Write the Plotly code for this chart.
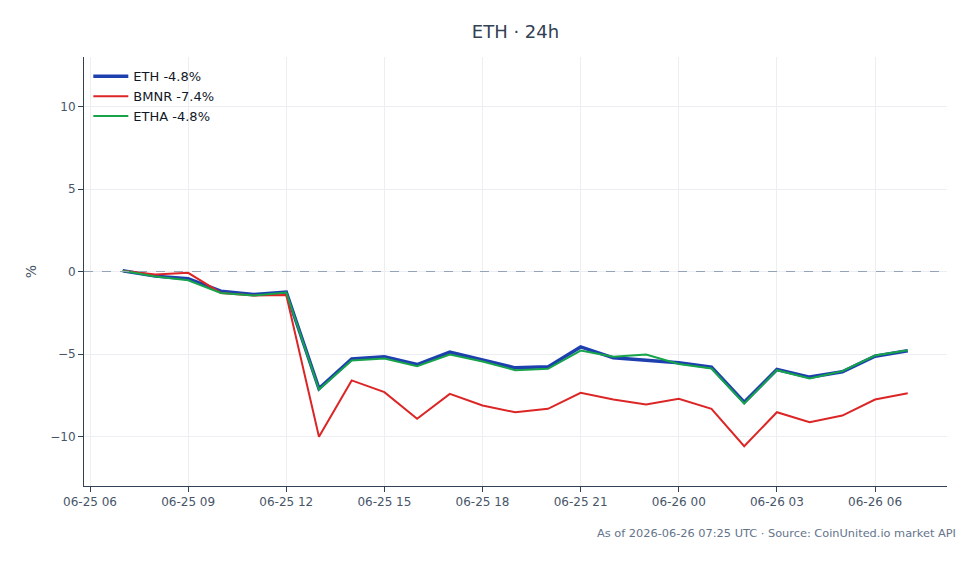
import plotly.graph_objects as go
import pandas as pd

times = pd.date_range("2026-06-25 07:00", "2026-06-26 07:00", freq="h")

eth = [0.05, -0.28, -0.44, -1.19, -1.39, -1.25, -7.1, -5.3, -5.17, -5.64, -4.89, -5.37,
       -5.84, -5.78, -4.57, -5.23, -5.39, -5.53, -5.8, -7.92, -5.94, -6.4, -6.08, -5.13, -4.8]
bmnr = [0.05, -0.18, -0.08, -1.3, -1.45, -1.43, -10.02, -6.6, -7.31, -8.93, -7.42, -8.12,
        -8.53, -8.32, -7.35, -7.76, -8.06, -7.72, -8.32, -10.59, -8.53, -9.13, -8.73, -7.76, -7.38]
etha = [0.05, -0.3, -0.53, -1.3, -1.45, -1.27, -7.15, -5.4, -5.27, -5.74, -5.03, -5.45,
        -5.98, -5.9, -4.79, -5.17, -5.03, -5.6, -5.88, -8.0, -5.98, -6.48, -6.04, -5.09, -4.77]

names = ["ETH -4.8%", "BMNR -7.4%", "ETHA -4.8%"]
colors = ["#1e40af", "#dc2626", "#16a34a"]
widths = [3.5, 2, 2]

fig = go.Figure()
for vals, name, c, w in zip([eth, bmnr, etha], names, colors, widths):
    fig.add_trace(go.Scatter(x=times, y=vals, mode="lines", name=name,
                             line=dict(color=c, width=w)))

fig.add_hline(y=0, line=dict(color="#94a3b8", width=1, dash="dash"))

fig.update_layout(
    width=979, height=564,
    margin=dict(l=84, r=32, t=57, b=78),
    paper_bgcolor="white", plot_bgcolor="white",
    font=dict(family="DejaVu Sans", size=12, color="#475569"),
    title=dict(text="ETH · 24h", x=0.5, xref="paper", xanchor="center",
               y=1 - 32 / 564, yref="container", yanchor="middle",
               font=dict(size=18, color="#334155")),
    legend=dict(x=0.005, y=0.99, xanchor="left", yanchor="top", itemwidth=35,
                bgcolor="rgba(0,0,0,0)", font=dict(size=13, color="#111827")),
    showlegend=True,
)
fig.update_xaxes(
    range=["2026-06-25 05:49", "2026-06-26 08:12"],
    tickformat="%m-%d %H", dtick=3 * 3600 * 1000, tick0="2026-06-25 00:00",
    showline=True, linecolor="#334155", linewidth=1,
    ticks="outside", ticklen=5, tickcolor="#334155",
    showgrid=True, gridcolor="#eceef2", zeroline=False,
)
fig.update_yaxes(
    range=[-13, 13], tickvals=[-10, -5, 0, 5, 10],
    title=dict(text="%", standoff=10),
    showline=True, linecolor="#334155", linewidth=1,
    ticks="outside", ticklen=5, tickcolor="#334155",
    showgrid=True, gridcolor="#eceef2", zeroline=False,
)
fig.add_annotation(text="As of 2026-06-26 07:25 UTC · Source: CoinUnited.io market API",
                   xref="paper", yref="paper", x=1 + 11 / 863, y=-(533 - 486) / 429,
                   xanchor="right", yanchor="middle", showarrow=False,
                   font=dict(size=11.35, color="#64748b"))

fig.write_html("out.html")
